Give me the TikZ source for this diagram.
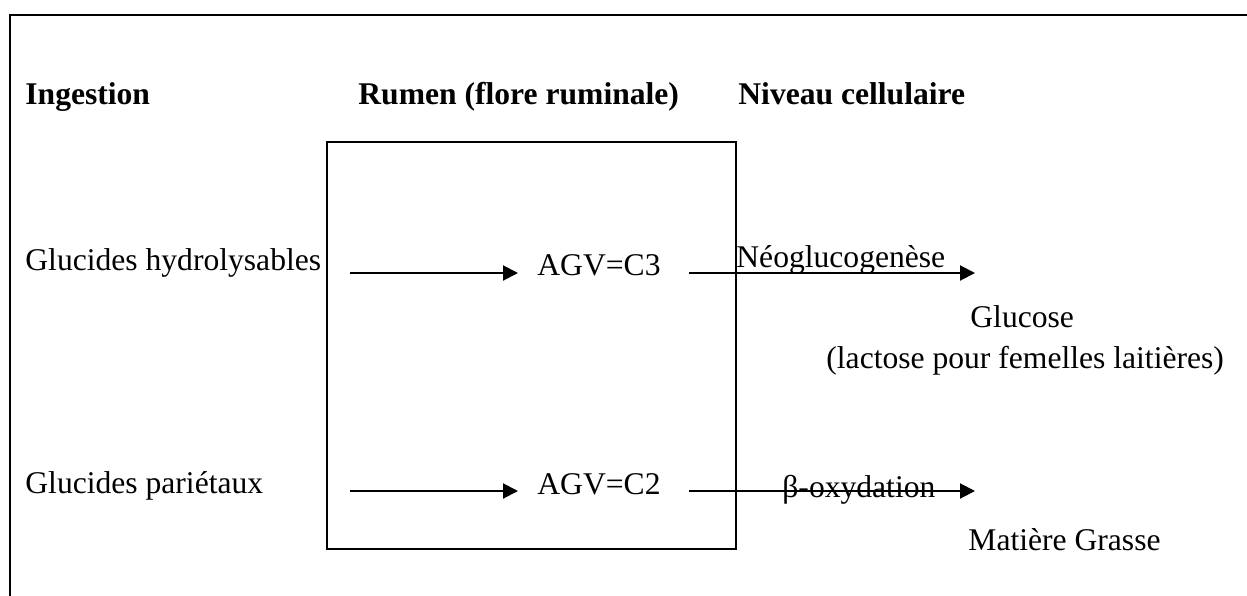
\documentclass[tikz,border=0pt]{standalone}
\usepackage{fontspec}
\setmainfont{Liberation Serif}
\usetikzlibrary{arrows.meta}
\begin{document}
\begin{tikzpicture}[x=0.5pt, y=-0.5pt,
    txt/.style={inner sep=0pt, anchor=base west, font=\fontsize{15.8pt}{18pt}\selectfont},
    head/.style={txt, font=\fontsize{15.8pt}{18pt}\selectfont\bfseries},
    frame/.style={line width=1pt},
    arr/.style={line width=1pt, -{Triangle[length=7.5pt, width=7.5pt]}}]
  \useasboundingbox (0,0) rectangle (1247,595);
  \clip (0,0) rectangle (1247,595);

  % outer frame (only top and left sides visible)
  \draw[frame] (1260,15) -- (10,15) -- (10,610);

  % column headings
  \node[head] (hing) at (25,104) {Ingestion};
  \node[head] (hrum) at (358,104) {Rumen (flore ruminale)};
  \node[head] (hniv) at (738,104) {Niveau cellulaire};

  % rumen box
  \draw[line width=0.9pt] (327,142) rectangle (736,549);

  % inputs
  \node[txt] (gh) at (25,270) {Glucides hydrolysables};
  \node[txt] (gp) at (25,493) {Glucides pariétaux};

  % volatile fatty acids
  \node[txt] (agv3) at (537,275) {AGV=C3};
  \node[txt] (agv2) at (537,494) {AGV=C2};

  % arrow ends
  \coordinate (p1) at (350,273);
  \coordinate (q1) at (975,273);
  \coordinate (p2) at (350,491);
  \coordinate (q2) at (975,491);

  \draw[arr] (p1) -- ([xshift=-9.5pt]agv3.west |- p1);
  \draw[arr] ([xshift=14pt]agv3.east |- p1) -- (q1);
  \draw[arr] (p2) -- ([xshift=-9.5pt]agv2.west |- p2);
  \draw[arr] ([xshift=14pt]agv2.east |- p2) -- (q2);

  % pathway labels
  \node[txt] (neo) at (736,267) {Néoglucogenèse};
  \node[txt] (box) at (782,497) {β-oxydation};

  % products
  \node[txt] (glu) at (970,327) {Glucose};
  \node[txt] (lac) at (826,368) {(lactose pour femelles laitières)};
  \node[txt] (mg) at (968,550) {Matière Grasse};
\end{tikzpicture}
\end{document}
